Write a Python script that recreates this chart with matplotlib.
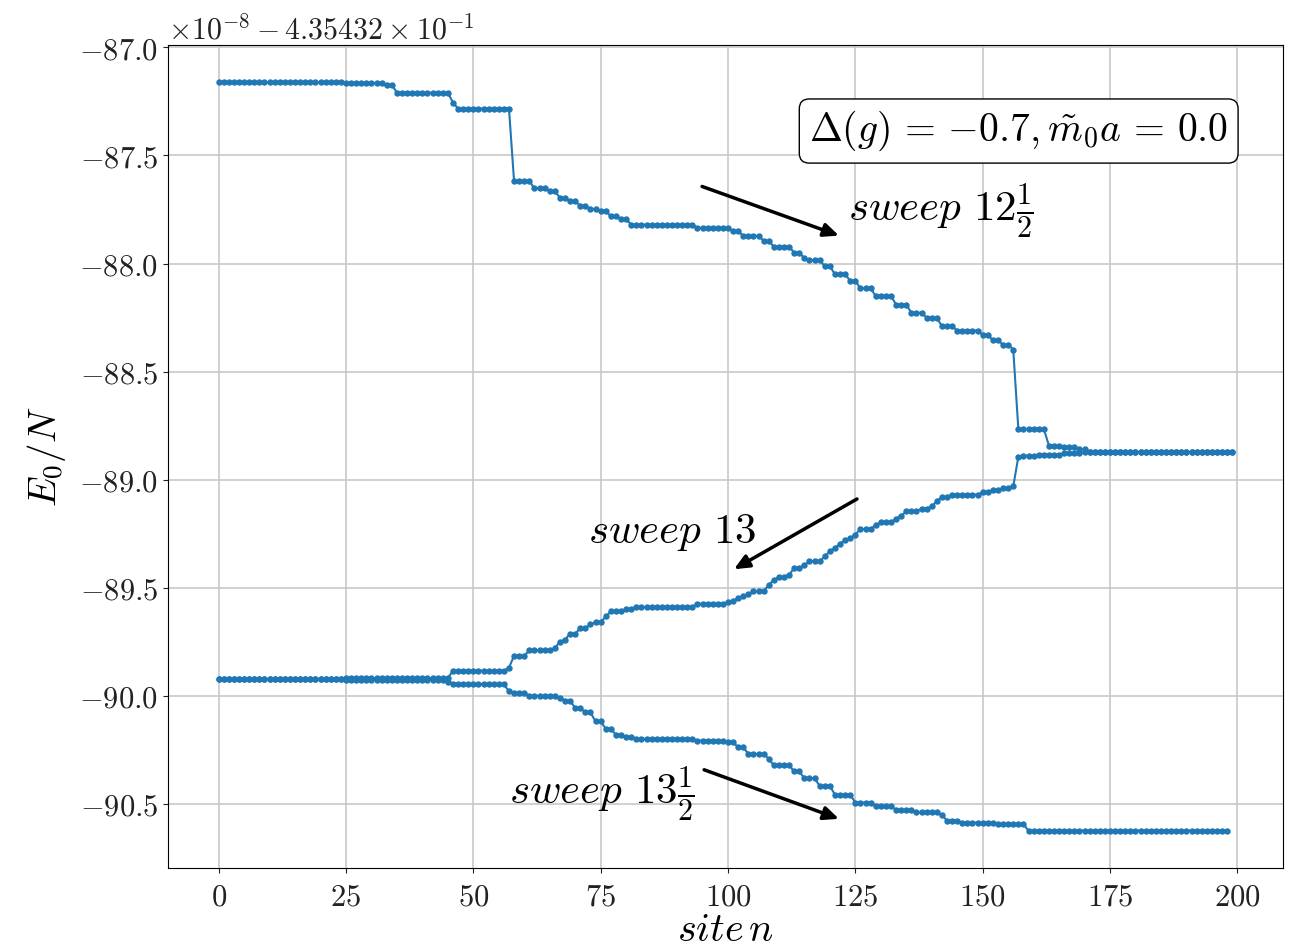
import numpy as np
import matplotlib
matplotlib.use("Agg")
import matplotlib.pyplot as plt
from matplotlib.ticker import FuncFormatter

plt.rcParams['mathtext.fontset'] = 'cm'
plt.rcParams['font.family'] = 'DejaVu Serif'

# E0/N per site, in units of 1e-8 after subtracting 4.35432e-1.
# Each sweep is stored as (run length, level) pairs in increasing site order.
sweep_12h_runs = [25, 8, 2, 11, 1, 11, 4, 3, 2, 2, 2, 2, 2, 2, 2, 2, 13, 7, 2, 4,
                  2, 4, 2, 1, 3, 2, 3, 2, 3, 4, 3, 3, 3, 3, 5, 2, 2, 2, 1, 6,
                  3, 3, 2, 29]
sweep_12h_vals = [-87.162, -87.165, -87.172, -87.21, -87.255, -87.283, -87.619,
                  -87.652, -87.665, -87.695, -87.712, -87.732, -87.748, -87.757,
                  -87.782, -87.795, -87.82, -87.835, -87.85, -87.872, -87.895,
                  -87.922, -87.95, -87.975, -87.985, -88.012, -88.05, -88.08,
                  -88.115, -88.15, -88.19, -88.228, -88.251, -88.29, -88.31,
                  -88.329, -88.355, -88.375, -88.398, -88.765, -88.842, -88.85,
                  -88.86, -88.872]

sweep_13_runs = [25, 21, 11, 1, 3, 5, 1, 1, 1, 2, 2, 1, 2, 1, 3, 2, 12, 6, 1, 1,
                 1, 1, 1, 3, 1, 1, 2, 1, 2, 1, 3, 1, 1, 1, 1, 1, 1, 1, 3, 1,
                 3, 1, 1, 3, 2, 1, 1, 2, 6, 2, 2, 2, 1, 1, 3, 5, 4, 30]
sweep_13_vals = [-89.922, -89.918, -89.884, -89.87, -89.815, -89.79, -89.779,
                 -89.75, -89.74, -89.713, -89.687, -89.67, -89.66, -89.633,
                 -89.61, -89.60, -89.59, -89.574, -89.568, -89.56, -89.548,
                 -89.54, -89.53, -89.517, -89.486, -89.465, -89.45, -89.44,
                 -89.409, -89.395, -89.378, -89.355, -89.332, -89.315, -89.296,
                 -89.28, -89.27, -89.255, -89.228, -89.21, -89.198, -89.18,
                 -89.167, -89.147, -89.134, -89.123, -89.10, -89.08, -89.069,
                 -89.059, -89.05, -89.039, -89.031, -88.895, -88.889, -88.884,
                 -88.878, -88.872]

sweep_13h_runs = [25, 20, 1, 11, 1, 3, 6, 1, 2, 2, 2, 2, 2, 2, 2, 12, 6, 2, 2, 4,
                  1, 4, 2, 3, 3, 4, 4, 4, 4, 5, 1, 3, 7, 6, 40]
sweep_13h_vals = [-89.922, -89.928, -89.934, -89.946, -89.98, -89.988, -90.0,
                  -90.01, -90.022, -90.057, -90.077, -90.119, -90.152, -90.181,
                  -90.191, -90.199, -90.207, -90.216, -90.238, -90.269, -90.292,
                  -90.322, -90.35, -90.382, -90.417, -90.458, -90.494, -90.51,
                  -90.528, -90.54, -90.551, -90.578, -90.587, -90.595, -90.624]

s12 = np.repeat(sweep_12h_vals, sweep_12h_runs)
s13 = np.repeat(sweep_13_vals, sweep_13_runs)
s13h = np.repeat(sweep_13h_vals, sweep_13h_runs)

# one continuous path: right sweep, left sweep, right sweep
x = np.concatenate([np.arange(len(s12)), np.arange(len(s13))[::-1], np.arange(len(s13h))])
y = np.concatenate([s12, s13[::-1], s13h])

fig = plt.figure(figsize=(12.98, 9.52), dpi=100)
ax = fig.add_axes([0.1294, 0.0882, 0.8590, 0.8645])
ax.plot(x, y, '-o', color='#1f77b4', lw=1.5, ms=3.6)
ax.grid(True, color='#c8c8c8', lw=1.2)

ax.set_xticks([0, 25, 50, 75, 100, 125, 150, 175, 200])
ax.set_yticks([-87.0, -87.5, -88.0, -88.5, -89.0, -89.5, -90.0, -90.5])
ax.xaxis.set_major_formatter(FuncFormatter(lambda v, _: f'${v:.0f}$'))
ax.yaxis.set_major_formatter(FuncFormatter(lambda v, _: f'${v:.1f}$'))
ax.tick_params(labelsize=22, colors='#222222')
ax.tick_params(axis='x', pad=6)

ax.set_xlabel(r'$site\, n$', fontsize=29, labelpad=0)
ax.set_ylabel(r'$E_0/N$', fontsize=28, labelpad=8)
ax.text(0.0, 1.0, r'$\times10^{-8} - 4.35432\times10^{-1}$', transform=ax.transAxes,
        fontsize=21.5, ha='left', va='bottom', color='#222222')

ax.text(0.763, 0.8955, r'$\Delta(g)\,=\,{-0.7},\tilde{m}_0 a\,=\,0.0$', transform=ax.transAxes,
        fontsize=28.5, ha='center', va='center',
        bbox=dict(boxstyle='round,pad=0.25', fc='white', ec='black', lw=1))

arrow = dict(arrowstyle='-|>,head_width=0.4,head_length=0.9', color='black', lw=2.5)
ax.annotate('', xy=(122.3, -87.875), xytext=(94.4, -87.639), arrowprops=arrow)
ax.text(123.5, -87.76, r'$sweep\ 12\frac{1}{2}$', fontsize=31, va='center')
ax.annotate('', xy=(100.7, -89.421), xytext=(125.8, -89.083), arrowprops=arrow)
ax.text(72.5, -89.24, r'$sweep\ 13$', fontsize=31, va='center')
ax.annotate('', xy=(122.3, -90.574), xytext=(94.8, -90.338), arrowprops=arrow)
ax.text(57.0, -90.458, r'$sweep\ 13\frac{1}{2}$', fontsize=31, va='center')

fig.savefig('out.png', dpi=100)
